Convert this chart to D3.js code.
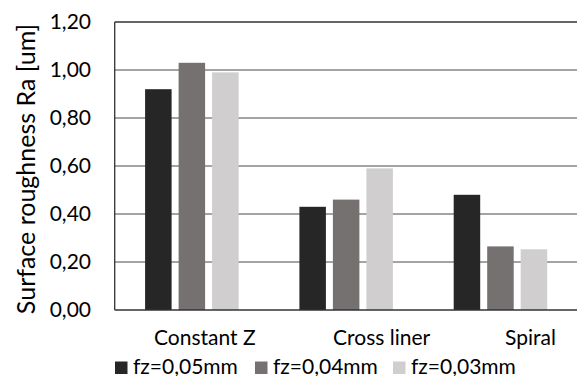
<!DOCTYPE html>
<html><head><meta charset="utf-8">
<script src="https://cdn.jsdelivr.net/npm/d3@7"></script>
<style>body{margin:0;background:#fff}svg{display:block}text{font-family:Lato,"Open Sans",sans-serif;fill:#000}</style>
</head><body>
<script>
const categories = ["Constant Z", "Cross liner", "Spiral"];
const seriesNames = ["fz=0,05mm", "fz=0,04mm", "fz=0,03mm"];
const fz005 = [0.92, 0.43, 0.48];
const fz004 = [1.03, 0.46, 0.265];
const fz003 = [0.99, 0.59, 0.253];
const yTicks = [0, 0.2, 0.4, 0.6, 0.8, 1.0, 1.2];
const colors = ["#262626", "#767171", "#d0cece"];
const series = [fz005, fz004, fz003];

const W = 577, H = 376;
const svg = d3.select("body").append("svg").attr("width", W).attr("height", H);
const L = 114.7, R = 577.6, T = 22, B = 310;
const x = d3.scaleBand().domain(categories).range([L, R]);
const y = d3.scaleLinear().domain([0, 1.2]).range([B, T]);
const bw = 26.5, gap = 7;

// gridlines
svg.append("g").selectAll("line").data(yTicks.filter(v => v > 0 && v < 1.2)).join("line")
  .attr("x1", L).attr("x2", R).attr("y1", d => y(d)).attr("y2", d => y(d))
  .attr("stroke", "#484848").attr("stroke-width", 1);

// bars
series.forEach((s, si) => {
  svg.append("g").selectAll("rect").data(s).join("rect")
    .attr("x", (d, i) => x(categories[i]) + x.bandwidth() / 2 - bw * 1.5 - gap + si * (bw + gap))
    .attr("width", bw)
    .attr("y", d => y(d)).attr("height", d => B - y(d))
    .attr("fill", colors[si]);
});

// frame
svg.append("line").attr("x1", L).attr("x2", R).attr("y1", T).attr("y2", T).attr("stroke", "#333").attr("stroke-width", 1.3);
svg.append("line").attr("x1", L).attr("x2", R).attr("y1", B).attr("y2", B).attr("stroke", "#333").attr("stroke-width", 1.3);
svg.append("line").attr("x1", L).attr("x2", L).attr("y1", T).attr("y2", B).attr("stroke", "#333").attr("stroke-width", 1.3);

// y axis labels
const fmt = d => d.toFixed(2).replace(".", ",");
svg.append("g").selectAll("text").data(yTicks).join("text")
  .attr("x", 91).attr("y", d => y(d)).attr("dy", "0.35em")
  .attr("text-anchor", "end").attr("font-size", 21).text(fmt);

// category labels (label centres sit right of the band centre, as in the source)
const labelShift = [13, 35.5, 30];
svg.append("g").selectAll("text").data(categories).join("text")
  .attr("x", (d, i) => x(d) + x.bandwidth() / 2 + labelShift[i]).attr("y", 344.5)
  .attr("text-anchor", "middle").attr("font-size", 21).text(d => d);

// y title
svg.append("text").attr("transform", "translate(35,169) rotate(-90)")
  .attr("text-anchor", "middle").attr("font-size", 25).text("Surface roughness Ra [um]");

// legend
const legX = [115, 255, 393];
const lg = svg.append("g").selectAll("g").data(seriesNames).join("g")
  .attr("transform", (d, i) => `translate(${legX[i]},0)`);
lg.append("rect").attr("x", 0).attr("y", 361.5).attr("width", 12.5).attr("height", 12.5).attr("fill", (d, i) => colors[i]);
lg.append("text").attr("x", 18).attr("y", 373.5).attr("font-size", 21).text(d => d);
</script>
</body></html>
